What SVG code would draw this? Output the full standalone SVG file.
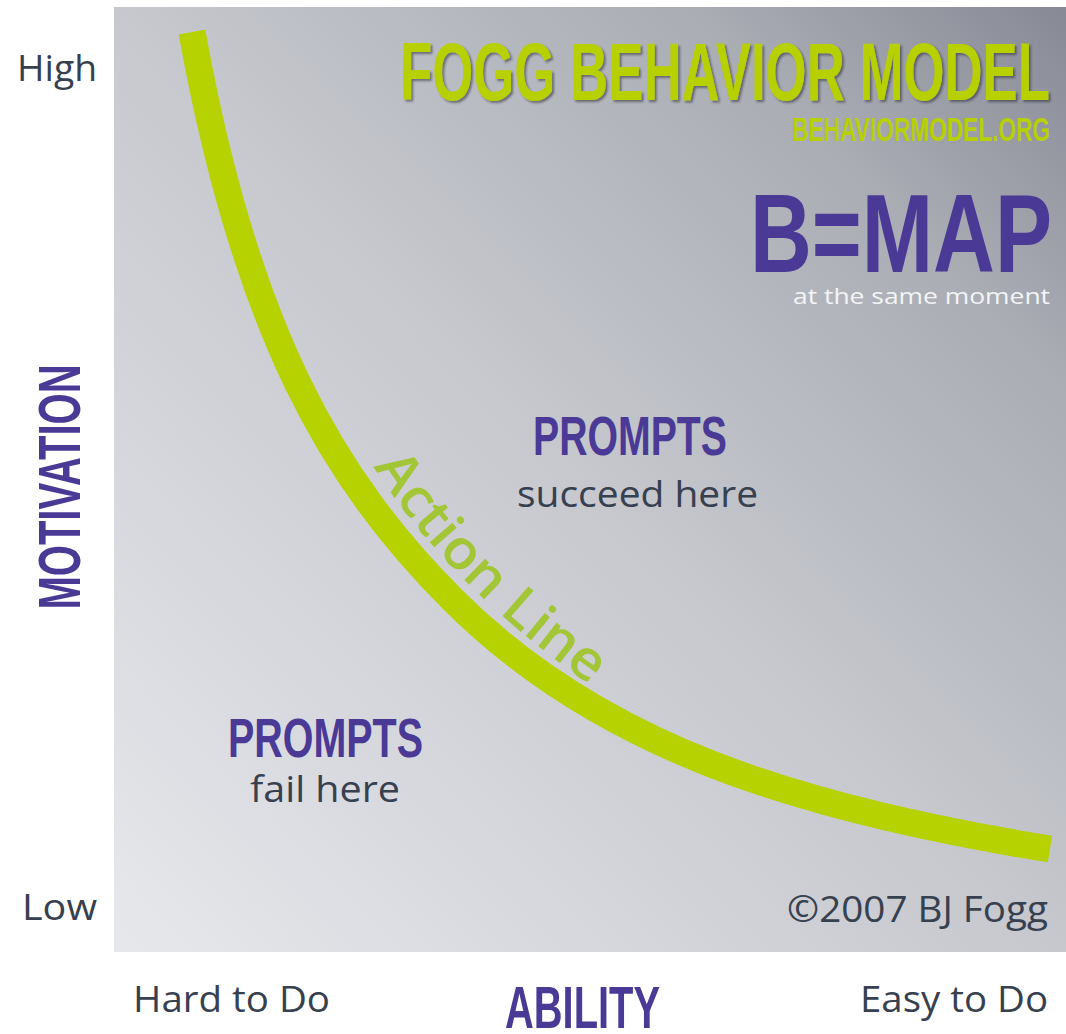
<svg xmlns="http://www.w3.org/2000/svg" width="1066" height="1034" viewBox="0 0 1066 1034">
  <defs>
    <linearGradient id="bg" gradientUnits="userSpaceOnUse" x1="114" y1="952" x2="1066" y2="7">
      <stop offset="0" stop-color="#e6e8ec"/>
      <stop offset="0.5" stop-color="#c6c8ce"/>
      <stop offset="0.8" stop-color="#abadb5"/>
      <stop offset="1" stop-color="#878995"/>
    </linearGradient>
    <filter id="shadow" x="-5%" y="-20%" width="110%" height="150%">
      <feDropShadow dx="2" dy="2" stdDeviation="1" flood-color="#2a2a35" flood-opacity="0.55"/>
    </filter>
    <path id="actionTextPath" d="M 362,448 C 410,530 493,626 640,718"/>
  </defs>
  <style>
    .cond { font-family: "Liberation Sans", "DejaVu Sans", sans-serif; font-weight: bold; }
    .purple { fill: #4a3a96; }
    .green { fill: #b6d000; }
    .body { font-family: "Open Sans", "DejaVu Sans", sans-serif; fill: #37404f; font-size: 37px; }
    .actionline { fill: none; stroke: #b6d200; stroke-width: 27; stroke-linecap: butt; }
  </style>

  <rect id="background" x="0" y="0" width="1066" height="1034" fill="#ffffff"/>
  <rect id="plot" x="114" y="7" width="952" height="945" fill="url(#bg)"/>

  <g id="connectors">
    <path id="action-line" class="actionline" d="M 192,32 C 246,332 333,480 453,600 C 600,747 800,809 1050,849"/>
  </g>

  <g id="action-line-label">
    <text font-family="'Open Sans', 'DejaVu Sans', sans-serif" font-weight="600" font-size="55" fill="#a3c637"><textPath href="#actionTextPath" startOffset="22" textLength="310" lengthAdjust="spacingAndGlyphs">Action Line</textPath></text>
  </g>

  <g id="title">
    <text class="cond green" x="400" y="100" font-size="81" textLength="650" lengthAdjust="spacingAndGlyphs" filter="url(#shadow)">FOGG BEHAVIOR MODEL</text>
    <text class="cond green" x="792" y="141" font-size="33" textLength="258" lengthAdjust="spacingAndGlyphs">BEHAVIORMODEL.ORG</text>
  </g>

  <g id="formula">
    <text class="cond purple" x="750" y="272" font-size="112" textLength="302" lengthAdjust="spacingAndGlyphs">B=MAP</text>
    <text x="1050" y="304" text-anchor="end" font-family="'Open Sans', 'DejaVu Sans', sans-serif" font-size="22" fill="#f4f5f7" textLength="257" lengthAdjust="spacingAndGlyphs">at the same moment</text>
  </g>

  <g id="prompts-succeed">
    <text class="cond purple" x="533" y="455" font-size="56" textLength="194" lengthAdjust="spacingAndGlyphs">PROMPTS</text>
    <text class="body" x="517" y="507" textLength="241" lengthAdjust="spacingAndGlyphs">succeed here</text>
  </g>

  <g id="prompts-fail">
    <text class="cond purple" x="228" y="757" font-size="56" textLength="195" lengthAdjust="spacingAndGlyphs">PROMPTS</text>
    <text class="body" x="250" y="802" textLength="150" lengthAdjust="spacingAndGlyphs">fail here</text>
  </g>

  <g id="y-axis">
    <text class="body" x="17" y="81" textLength="80" lengthAdjust="spacingAndGlyphs">High</text>
    <text class="body" x="22" y="920" textLength="75" lengthAdjust="spacingAndGlyphs">Low</text>
    <text class="cond purple" transform="translate(80,487) rotate(-90)" x="0" y="0" text-anchor="middle" font-size="59" textLength="245" lengthAdjust="spacingAndGlyphs">MOTIVATION</text>
  </g>

  <g id="x-axis">
    <text class="body" x="133" y="1012" textLength="197" lengthAdjust="spacingAndGlyphs">Hard to Do</text>
    <text class="cond purple" x="505" y="1028" font-size="60" textLength="155" lengthAdjust="spacingAndGlyphs">ABILITY</text>
    <text class="body" x="860" y="1012" textLength="188" lengthAdjust="spacingAndGlyphs">Easy to Do</text>
  </g>

  <g id="copyright">
    <text class="body" x="787" y="922" textLength="261" lengthAdjust="spacingAndGlyphs">©2007 BJ Fogg</text>
  </g>
</svg>
